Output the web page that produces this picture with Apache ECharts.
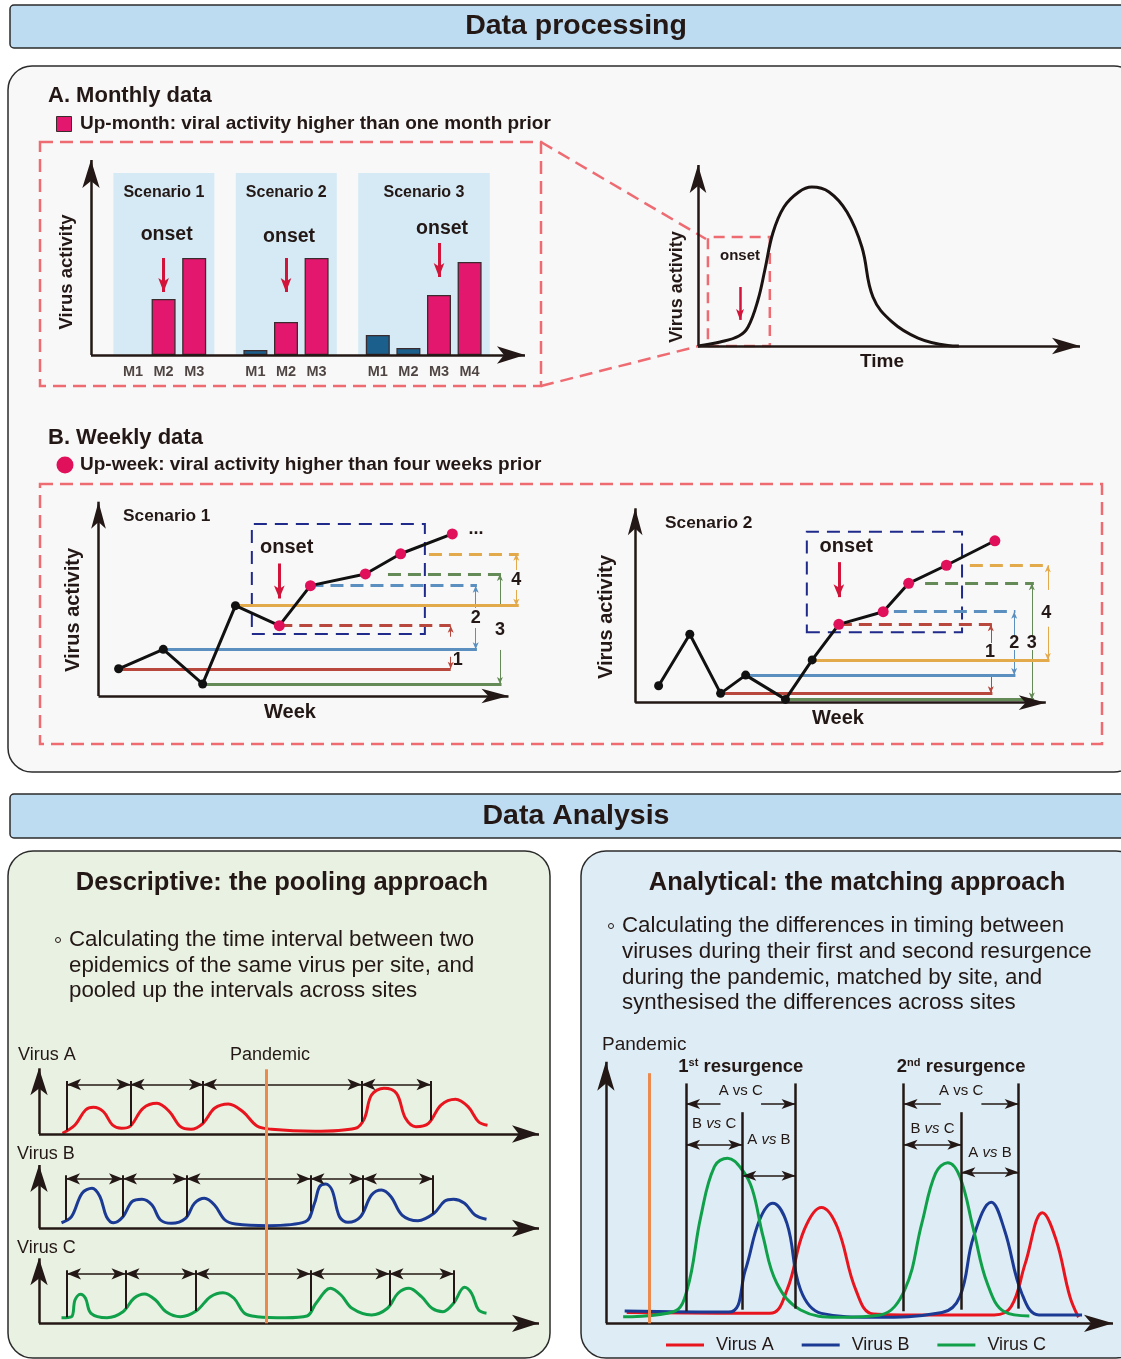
<!DOCTYPE html>
<html>
<head>
<meta charset="utf-8">
<title>Data processing and analysis</title>
<script src="https://cdn.jsdelivr.net/npm/echarts@6.0.0/dist/echarts.min.js"></script>
<style>
  html, body { margin: 0; padding: 0; background: #ffffff; }
  #chart { width: 1121px; height: 1359px; }
</style>
</head>
<body>
<div id="chart"></div>
<script>
// ---------------- data ----------------
// A. Monthly data: virus activity per month in three scenarios
const monthLabels   = ['M1', 'M2', 'M3', 'M1', 'M2', 'M3', 'M1', 'M2', 'M3', 'M4'];
const monthScenario = [1, 1, 1, 2, 2, 2, 3, 3, 3, 3];
const monthSlot     = [0, 1, 2, 4, 5, 6, 8, 9, 10, 11];
const monthActivity = [0, 56, 97, 5, 33, 97, 20, 7, 60, 93];
const scenarioNames = ['Scenario 1', 'Scenario 2', 'Scenario 3'];

// One epidemic over time
const curveTime     = [0, 5.8, 10.7, 13.1, 15.7, 17.5, 19.6, 22.5, 26.4, 29.8, 34.3, 39.0, 42.9, 45.8, 50.8, 57.6, 65.4, 68.3];
const curveActivity = [0, 2.2, 5.5, 10.5, 25.4, 42.0, 62.4, 76.8, 85.1, 87.8, 85.1, 74.0, 54.7, 27.1, 13.3, 4.4, 0.3, 0];
const curveOnset    = 11;

// B. Weekly data: two scenarios
const week1X        = [4.9, 15.8, 25.4, 33.4, 44.1, 51.7, 65.1, 73.7, 86.3];
const week1Activity = [14.0, 24.0, 6.2, 46.5, 36.2, 56.8, 62.8, 73.2, 83.4];
const week2X        = [5.7, 13.3, 20.8, 26.9, 36.6, 43.1, 49.6, 60.4, 66.6, 75.8, 87.6];
const week2Activity = [8.7, 35.2, 4.8, 14.2, 1.7, 22.0, 40.3, 46.8, 61.4, 70.7, 83.3];

// Pooling approach: epidemics of each virus and their start weeks
const poolAWeek     = [4.7, 7.2, 9.3, 10.9, 12.9, 14.7, 16.5, 18.3, 20.8, 23.6, 26.1, 28.3, 30.4, 32.8, 35.1, 37.9, 40.8, 43.6, 46.5, 55.1, 63.3, 65.1, 66.5, 69.0, 71.5, 73.3, 75.4, 77.9, 80.4, 83.3, 85.8, 87.9, 89.7];
const poolAActivity = [1.1, 13.7, 36.5, 40.6, 33.9, 13.7, 8.7, 12.2, 39.1, 46.7, 33.9, 11.1, 7.2, 16.3, 39.1, 45.7, 33.9, 12.2, 7.2, 4.1, 8.7, 23.9, 59.4, 69.6, 61.9, 23.9, 11.1, 16.3, 44.1, 52.8, 41.6, 18.7, 13.2];
const poolAStarts   = [5.6, 18.3, 32.8, 64.5, 78.3];
const poolBWeek     = [4.5, 6.5, 8.6, 10.6, 12.2, 13.5, 14.9, 16.8, 18.6, 20.6, 22.6, 24.3, 26.5, 29.3, 31.1, 33.1, 35.1, 37.2, 39.3, 45.8, 53.3, 55.1, 56.1, 57.3, 58.6, 60.1, 61.8, 64.3, 66.5, 68.5, 70.4, 72.6, 75.8, 79.0, 81.1, 82.9, 85.1, 87.2, 89.5];
const poolBActivity = [8.8, 18.3, 55.3, 63.2, 49.9, 18.3, 8.8, 18.3, 42.0, 45.8, 36.8, 13.1, 7.9, 15.8, 39.5, 47.4, 36.8, 13.1, 6.8, 4.1, 10.4, 39.5, 65.7, 70.0, 60.5, 18.3, 9.5, 18.3, 52.6, 60.5, 49.9, 21.0, 12.0, 23.7, 42.7, 45.8, 39.5, 21.0, 14.2];
const poolBStarts   = [5.4, 16.8, 29.5, 54.3, 64.8, 78.8];
const poolCWeek     = [4.5, 6.5, 7.2, 8.3, 9.3, 10.4, 13.6, 16.8, 19.0, 21.1, 23.3, 25.4, 28.3, 31.5, 34.3, 36.8, 39.0, 41.1, 43.6, 49.3, 53.6, 55.4, 58.3, 60.4, 62.6, 66.5, 69.7, 71.8, 74.0, 76.5, 78.6, 80.8, 82.9, 85.1, 86.5, 87.9, 89.5];
const poolCActivity = [8.6, 10.2, 35.8, 44.6, 38.5, 15.4, 8.6, 17.8, 38.5, 45.1, 35.8, 17.8, 10.2, 19.4, 40.9, 47.1, 38.5, 15.4, 10.2, 8.6, 11.2, 30.8, 53.8, 43.5, 23.1, 12.8, 23.1, 46.2, 53.8, 40.9, 23.1, 17.8, 30.8, 55.4, 46.2, 20.5, 15.4];
const poolCStarts   = [5.6, 17.3, 31.3, 54.3, 70.1, 82.9];
const pandemicWeek  = 45.4;

// Matching approach: first and second resurgence of each virus
const matchAWeek     = [4.1, 32.3, 35.7, 39.1, 42.5, 45.6, 49.3, 52.7, 62.9, 76.6, 79.9, 82.7, 86.1, 88.8, 91.5, 93.2];
const matchAActivity = [4.1, 3.8, 12.7, 35.7, 44.3, 36.9, 12.7, 3.6, 3.2, 3.2, 6.3, 22.9, 42.3, 31.8, 10.2, 2.3];
const matchBWeek     = [3.7, 24.2, 27.5, 30.3, 32.9, 35.7, 38.4, 42.5, 52.7, 66.3, 69.8, 72.5, 76.0, 78.6, 82.0, 85.4, 93.9];
const matchBActivity = [4.7, 4.3, 20.4, 39.5, 45.9, 38.2, 12.7, 3.8, 2.3, 4.1, 10.2, 33.1, 46.3, 35.7, 11.5, 3.2, 3.2];
const matchCWeek     = [3.4, 13.3, 16.0, 18.7, 21.4, 24.0, 26.9, 28.9, 31.0, 33.7, 38.4, 45.9, 54.1, 58.9, 62.3, 65.0, 67.4, 69.8, 72.5, 75.2, 78.6, 83.5];
const matchCActivity = [2.5, 4.4, 12.7, 40.7, 59.9, 63.1, 58.6, 51.0, 33.1, 15.3, 5.1, 2.3, 3.2, 12.7, 38.2, 57.3, 61.4, 56.0, 35.7, 15.3, 4.4, 2.8];
const resurgence1    = { A: 37.4, B: 26.9, C: 15.8 };
const resurgence2    = { A: 81.4, B: 70.1, C: 58.7 };
const matchPandemic  = 8.5;

// ---------------- styling ----------------
const INK = '#231815';
const PINK = '#e4176e';
const DOT_PINK = '#e0105a';
const MONTH_BLUE = '#1b5f8c';
const DASH_PINK = '#ee6b72';
const NAVY = '#1f2a8a';
const ONSET_RED = '#d3143a';
const PAIR_COLORS = ['#b8483d', '#5b8fbf', '#648b57', '#e3aa4b'];
const VIRUS_COLORS = { A: '#e8141e', B: '#1b3a94', C: '#10a04a' };
const ORANGE = '#ec8a4e';
const FF = '"Liberation Sans", Arial, Helvetica, sans-serif';

// ---------------- helpers ----------------
const grid = [], xAxis = [], yAxis = [], series = [];

// grid defined by the pixel position of value 0 and pixels per unit
function addGrid(ox, oy, sx, sy, ext) {
  const idx = grid.length;
  grid.push({ left: ox + ext[0] * sx, top: oy - ext[3] * sy, width: (ext[1] - ext[0]) * sx,
              height: (ext[3] - ext[2]) * sy, containLabel: false, outerBoundsMode: 'none', show: false });
  xAxis.push({ type: 'value', gridIndex: idx, min: ext[0], max: ext[1], show: false, splitLine: { show: false } });
  yAxis.push({ type: 'value', gridIndex: idx, min: ext[2], max: ext[3], show: false, splitLine: { show: false } });
  return idx;
}

function seg(a, b, style, endSym, startSym) {
  const p0 = { coord: a, symbol: 'none', lineStyle: Object.assign({ type: 'solid' }, style) };
  const p1 = { coord: b, symbol: 'none' };
  if (startSym) { p0.symbol = 'arrow'; p0.symbolSize = startSym; }
  if (endSym) { p1.symbol = 'arrow'; p1.symbolSize = endSym; }
  return [p0, p1];
}

function note(coord, text, style) {
  return { coord: coord, value: 0,
           label: Object.assign({ show: true, formatter: () => text, fontFamily: FF, color: INK }, style) };
}

function overlay(gi, lines, notes, z) {
  series.push({
    type: 'line', xAxisIndex: gi, yAxisIndex: gi, data: [], silent: true, clip: false, z: z || 4,
    markLine: { silent: true, animation: false, symbol: ['none', 'none'], label: { show: false },
                emphasis: { disabled: true }, lineStyle: { type: 'solid', color: INK, width: 1 }, data: lines },
    markPoint: { silent: true, animation: false, symbol: 'circle', symbolSize: 0,
                 itemStyle: { color: 'rgba(0,0,0,0)' }, emphasis: { disabled: true },
                 label: { show: true }, data: notes || [] }
  });
}

function axesLines(x0, y0, xEnd, yEnd, size, width) {
  const st = { color: INK, width: width || 2.5 };
  return [seg([x0, y0], [x0, yEnd], st, size), seg([x0, y0], [xEnd, y0], st, size)];
}

function interp(xs, ys, x) {
  if (x <= xs[0]) return ys[0];
  for (let i = 1; i < xs.length; i++) {
    if (x <= xs[i]) { const t = (x - xs[i - 1]) / (xs[i] - xs[i - 1]); return ys[i - 1] + t * (ys[i] - ys[i - 1]); }
  }
  return ys[ys.length - 1];
}

const zip = (xs, ys) => xs.map((x, i) => [x, ys[i]]);

// ---------------- A. monthly bars ----------------
const gM = addGrid(133, 355, 30.6, 1, [-3, 15, -30, 230]);
const upMonth = monthActivity.map((v, i) => i > 0 && monthScenario[i] === monthScenario[i - 1] && v > monthActivity[i - 1]);

series.push({
  type: 'line', xAxisIndex: gM, yAxisIndex: gM, data: [], silent: true, z: 2,
  markArea: {
    silent: true, animation: false, itemStyle: { color: '#d5eaf4' },
    label: { show: true, position: 'insideTop', distance: 12, color: INK, fontFamily: FF, fontSize: 16, fontWeight: 'bold' },
    data: scenarioNames.map((name, k) => {
      const s = monthSlot.filter((_, i) => monthScenario[i] === k + 1);
      return [{ name: name, coord: [Math.min(...s) - 0.64, 0] }, { coord: [Math.max(...s) + 0.66, 182] }];
    })
  }
});

series.push({
  type: 'bar', name: 'Monthly activity', xAxisIndex: gM, yAxisIndex: gM, barWidth: 24, z: 3, silent: true,
  itemStyle: { borderColor: '#3a2b2f', borderWidth: 1.3 },
  data: monthSlot.map((s, i) => ({ value: [s, monthActivity[i]],
    itemStyle: { color: upMonth[i] ? PINK : MONTH_BLUE, borderWidth: monthActivity[i] > 0 ? 1.3 : 0 } }))
});

series.push({
  type: 'scatter', xAxisIndex: gM, yAxisIndex: gM, symbolSize: 0, silent: true, z: 4,
  data: monthSlot.map((s, i) => [s, 0, monthLabels[i]]),
  label: { show: true, position: 'bottom', distance: 9, formatter: p => p.value[2],
           fontSize: 14.5, fontWeight: 'bold', color: INK, fontFamily: FF }
});

const monthOnsetArrow = [[97, 63], [97, 63], [112, 78]];
const monthOnsetText = [120, 118, 126];
const monthLines = axesLines(-1.373, 0, 12.81, 195, [13, 28]);
const monthNotes = [];
scenarioNames.forEach((_, k) => {
  const i = upMonth.findIndex((u, j) => u && monthScenario[j] === k + 1);
  const s = monthSlot[i];
  monthLines.push(seg([s, monthOnsetArrow[k][0]], [s, monthOnsetArrow[k][1]], { color: ONSET_RED, width: 3 }, [8, 14]));
  monthNotes.push(note([s + 0.1, monthOnsetText[k]], 'onset', { fontSize: 19.5, fontWeight: 'bold' }));
});
overlay(gM, monthLines, monthNotes);

// ---------------- epidemic curve ----------------
const gT = addGrid(698, 346, 3.82, 1.81, [-5, 110, -10, 110]);
series.push({
  type: 'line', xAxisIndex: gT, yAxisIndex: gT, data: zip(curveTime, curveActivity), smooth: 0.4,
  symbol: 'none', lineStyle: { color: '#1a1311', width: 3 }, z: 3, silent: true,
  markArea: { silent: true, itemStyle: { color: 'rgba(0,0,0,0)', borderColor: DASH_PINK, borderWidth: 2.5, borderType: [11, 7] },
              data: [[{ coord: [curveOnset - 8.4, 0] }, { coord: [curveOnset + 7.8, 60.2] }]] }
});
overlay(gT,
  axesLines(0, 0, 100, 100, [12.5, 28]).concat([seg([curveOnset, 32.6], [curveOnset, 14.4], { color: ONSET_RED, width: 2.5 }, [6, 11])]),
  [note([curveOnset, 50], 'onset', { fontSize: 15, fontWeight: 'bold' })]);

// ---------------- B. weekly scenarios ----------------
function buildWeekly(gi, xs, ys, guides, box) {
  const up = ys.map((v, i) => i >= 4 && v > ys[i - 4]);
  const onset = up.indexOf(true);
  const lines = [], notes = [];
  for (let k = 0; k < 4; k++) {
    const a = onset - 4 + k, b = onset + k, g = guides[k], col = PAIR_COLORS[k];
    lines.push(seg([xs[a], ys[a]], [g.end, ys[a]], { color: col, width: 3 }));
    lines.push(seg([g.dashFrom != null ? g.dashFrom : xs[b], ys[b]], [g.end, ys[b]], { color: col, width: 3, type: [13, 7] }));
    lines.push(seg([g.arrowX, g.gap[0]], [g.arrowX, ys[b]], { color: col, width: 1 }, [4.5, 7]));
    lines.push(seg([g.arrowX, g.gap[1]], [g.arrowX, ys[a]], { color: col, width: 1 }, [4.5, 7]));
    notes.push(note(g.label, String(k + 1), { fontSize: 18, fontWeight: 'bold' }));
  }
  overlay(gi, lines, notes, 3);

  series.push({
    type: 'line', xAxisIndex: gi, yAxisIndex: gi, silent: true, z: 5,
    data: xs.map((x, i) => ({ value: [x, ys[i]], symbolSize: up[i] ? 11 : 9, itemStyle: { color: up[i] ? DOT_PINK : '#111' } })),
    symbol: 'circle', lineStyle: { color: '#111', width: 3 },
    markArea: { silent: true, itemStyle: { color: 'rgba(0,0,0,0)', borderColor: NAVY, borderWidth: 2, borderType: [13, 8] },
                data: [[{ coord: [box[0], box[2]] }, { coord: [box[1], box[3]] }]] }
  });

  const ox = xs[onset], oy = ys[onset];
  overlay(gi,
    axesLines(0, 0, 100, 100, [11, 27]).concat([seg([ox, oy + 32], [ox, oy + 14], { color: ONSET_RED, width: 3 }, [8, 13])]),
    [note([ox + 1.8, oy + 40], 'onset', { fontSize: 20, fontWeight: 'bold' })], 6);
}

const gW1 = addGrid(98.5, 696, 4.1, 1.943, [-10, 115, -15, 110]);
buildWeekly(gW1, week1X, week1Activity, [
  { end: 85.9, arrowX: 85.9, gap: [30.5, 20.2], label: [87.6, 18.5] },
  { end: 92.3, arrowX: 92.0, gap: [45.3, 35.0], label: [92.0, 40.3] },
  { end: 98.3, dashFrom: 70.6, arrowX: 97.9, gap: [46.0, 23.7], label: [97.9, 34.0] },
  { end: 102.5, dashFrom: 80.6, arrowX: 101.9, gap: [64.8, 54.6], label: [101.9, 59.7] }
], [37.4, 79.6, 31.9, 88.5]);

const gW2 = addGrid(635.2, 702.7, 4.106, 1.944, [-10, 115, -15, 110]);
buildWeekly(gW2, week2X, week2Activity, [
  { end: 87.0, arrowX: 86.6, gap: [30.7, 14.2], label: [86.4, 26.2] },
  { end: 92.6, dashFrom: 63.0, arrowX: 92.3, gap: [34.8, 27.1], label: [92.3, 30.9] },
  { end: 97.1, dashFrom: 70.6, arrowX: 96.6, gap: [34.3, 27.1], label: [96.6, 30.9] },
  { end: 100.9, dashFrom: 81.5, arrowX: 100.5, gap: [58.0, 39.1], label: [100.1, 46.3] }
], [41.8, 79.6, 36.2, 88.0]);

// ---------------- pooling approach ----------------
function buildPool(gi, name, weeks, act, starts, color, sy) {
  series.push({
    type: 'line', name: name, xAxisIndex: gi, yAxisIndex: gi, data: zip(weeks, act), smooth: 0.35,
    symbol: 'none', lineStyle: { color: color, width: 3 }, z: 3, silent: true
  });
  const top = 53 / sy, arr = 49.5 / sy;
  const lines = axesLines(0, 0, 100, 100, [13, 27]);
  starts.forEach(x => lines.push(seg([x, Math.max(0, interp(weeks, act, x))], [x, top], { color: INK, width: 2 })));
  for (let i = 1; i < starts.length; i++) {
    lines.push(seg([starts[i - 1], arr], [starts[i], arr], { color: INK, width: 1.5 }, [8.5, 14], [8.5, 14]));
  }
  overlay(gi, lines, []);
}
const gA = addGrid(39, 1134, 5, 0.657, [-5, 110, -20, 110]);
const gB = addGrid(39, 1228.3, 5, 0.633, [-5, 110, -20, 110]);
const gC = addGrid(39, 1323.3, 5, 0.65, [-5, 110, -20, 110]);
buildPool(gA, 'Virus A (per site)', poolAWeek, poolAActivity, poolAStarts, VIRUS_COLORS.A, 0.657);
buildPool(gB, 'Virus B (per site)', poolBWeek, poolBActivity, poolBStarts, VIRUS_COLORS.B, 0.633);
buildPool(gC, 'Virus C (per site)', poolCWeek, poolCActivity, poolCStarts, VIRUS_COLORS.C, 0.65);
const gP = addGrid(39, 1323.3, 5, 2.54, [-5, 110, -5, 110]);
overlay(gP, [seg([pandemicWeek, 0], [pandemicWeek, 100], { color: ORANGE, width: 3 })], [], 6);

// ---------------- matching approach ----------------
const gR = addGrid(605.9, 1323.3, 5.071, 2.616, [-5, 100.5, -10, 110]);
[['Virus A', matchAWeek, matchAActivity, VIRUS_COLORS.A],
 ['Virus B', matchBWeek, matchBActivity, VIRUS_COLORS.B],
 ['Virus C', matchCWeek, matchCActivity, VIRUS_COLORS.C]].forEach(([name, w, a, c]) => {
  series.push({ type: 'line', name: name, xAxisIndex: gR, yAxisIndex: gR, data: zip(w, a), smooth: 0.4,
                symbol: 'none', lineStyle: { color: c, width: 3 }, itemStyle: { color: c }, z: 3, silent: true });
});

const vsRich = { n: { fontSize: 15, fontFamily: FF, color: INK }, i: { fontSize: 15, fontFamily: FF, color: INK, fontStyle: 'italic' } };
const matchLines = axesLines(0, 0, 100, 100, [13, 29]);
const matchNotes = [];
matchLines.push(seg([matchPandemic, 0], [matchPandemic, 95.6], { color: ORANGE, width: 3 }));
const headSize = [7.5, 14];
[[resurgence1, '1', 'st', 76.1, 56.4, 70.3], [resurgence2, '2', 'nd', 74.5, 57.7, 65.0]].forEach(([r, num, sup, bcLabel, abY, abLabel]) => {
  const st = { color: INK, width: 2.5 };
  matchLines.push(seg([r.C, 4.6], [r.C, 91.7], st));
  matchLines.push(seg([r.B, 5.2], [r.B, 80.7], st));
  matchLines.push(seg([r.A, 5.6], [r.A, 91.7], st));
  const arw = { color: INK, width: 1.5 };
  const midAC = (r.A + r.C) / 2, midBC = (r.B + r.C) / 2, midAB = (r.A + r.B) / 2;
  matchLines.push(seg([midAC - 4, 83.8], [r.C, 83.8], arw, headSize));
  matchLines.push(seg([midAC + 4, 83.8], [r.A, 83.8], arw, headSize));
  matchLines.push(seg([r.C, 68.3], [r.B, 68.3], arw, headSize, headSize));
  matchLines.push(seg([r.B, abY], [r.A, abY], arw, headSize, headSize));
  matchNotes.push(note([midAC, 88.9], 'A vs C', { fontSize: 15 }));
  matchNotes.push(note([midBC, bcLabel], '{n|B }{i|vs}{n| C}', { rich: vsRich }));
  matchNotes.push(note([midAB, abLabel], '{n|A }{i|vs}{n| B}', { rich: vsRich }));
  matchNotes.push(note([midAC, 97.9], '{b|' + num + '}{s|' + sup + '}{b| resurgence}', {
    rich: { b: { fontSize: 18.5, fontWeight: 'bold', fontFamily: FF, color: INK, lineHeight: 20 },
            s: { fontSize: 11, fontWeight: 'bold', fontFamily: FF, color: INK, verticalAlign: 'top', lineHeight: 12 } } }));
});
overlay(gR, matchLines, matchNotes);

// ---------------- page furniture ----------------
function txt(x, y, text, size, weight, extra) {
  return Object.assign({ type: 'text', x: x, y: y, z: 50, silent: true,
    style: Object.assign({ text: text, fill: INK, fontSize: size, fontWeight: weight || 'normal', fontFamily: FF,
                           align: 'left', verticalAlign: 'middle' }, extra && extra.style) },
    extra && extra.el);
}
const center = { style: { align: 'center' } };
const rot = { style: { align: 'center' }, el: { rotation: Math.PI / 2 } };
const dashStroke = { fill: 'none', stroke: DASH_PINK, lineWidth: 2.5, lineDash: [13, 7] };

const graphics = [
  { type: 'rect', z: 0, shape: { x: 10, y: 5, width: 1125, height: 43, r: 4 }, style: { fill: '#bddbf1', stroke: '#2b2b2b', lineWidth: 1.5 } },
  { type: 'rect', z: 0, shape: { x: 8, y: 66, width: 1130, height: 706, r: 24 }, style: { fill: '#f8f8f8', stroke: '#2b2b2b', lineWidth: 1.5 } },
  { type: 'rect', z: 0, shape: { x: 10, y: 794, width: 1125, height: 44, r: 4 }, style: { fill: '#bddbf1', stroke: '#2b2b2b', lineWidth: 1.5 } },
  { type: 'rect', z: 0, shape: { x: 8, y: 851, width: 542, height: 507, r: 25 }, style: { fill: '#e9f1e3', stroke: '#2b2b2b', lineWidth: 1.5 } },
  { type: 'rect', z: 0, shape: { x: 581, y: 851, width: 560, height: 507, r: 25 }, style: { fill: '#deedf5', stroke: '#2b2b2b', lineWidth: 1.5 } },

  txt(576, 26.5, 'Data processing', 28.5, 'bold', center),
  txt(48, 96, 'A. Monthly data', 22, 'bold'),
  { type: 'rect', z: 50, shape: { x: 56.5, y: 116.5, width: 15, height: 15 }, style: { fill: PINK, stroke: '#3a2b2f', lineWidth: 1 } },
  txt(80, 124, 'Up-month: viral activity higher than one month prior', 19, 'bold'),
  { type: 'rect', z: 1, shape: { x: 40, y: 142, width: 501, height: 244 }, style: dashStroke },
  { type: 'line', z: 1, shape: { x1: 541, y1: 142, x2: 706, y2: 239 }, style: dashStroke },
  { type: 'line', z: 1, shape: { x1: 541, y1: 386, x2: 699, y2: 346 }, style: dashStroke },
  txt(67, 272, 'Virus activity', 18.5, 'bold', rot),
  txt(677, 287, 'Virus activity', 18, 'bold', rot),
  txt(882, 362, 'Time', 19, 'bold', center),

  txt(48, 438, 'B. Weekly data', 22, 'bold'),
  { type: 'circle', z: 50, shape: { cx: 65, cy: 465, r: 8.5 }, style: { fill: DOT_PINK } },
  txt(80, 465, 'Up-week: viral activity higher than four weeks prior', 19, 'bold'),
  { type: 'rect', z: 1, shape: { x: 40, y: 484, width: 1062, height: 260 }, style: dashStroke },
  txt(123, 516, 'Scenario 1', 17.3, 'bold'),
  txt(665, 523, 'Scenario 2', 17.3, 'bold'),
  txt(73, 610, 'Virus activity', 20, 'bold', rot),
  txt(606, 617, 'Virus activity', 20, 'bold', rot),
  txt(290, 712, 'Week', 20, 'bold', center),
  txt(838, 718, 'Week', 20, 'bold', center),
  txt(476, 529, '...', 18, 'bold', center),

  txt(576, 816, 'Data Analysis', 28.5, 'bold', center),
  txt(282, 883, 'Descriptive: the pooling approach', 25.5, 'bold', center),
  txt(857, 883, 'Analytical: the matching approach', 25.5, 'bold', center),
  { type: 'circle', z: 50, shape: { cx: 58, cy: 940, r: 2.5 }, style: { fill: 'none', stroke: INK, lineWidth: 1 } },
  txt(69, 940, 'Calculating the time interval between two', 22.3),
  txt(69, 965.5, 'epidemics of the same virus per site, and', 22.3),
  txt(69, 991, 'pooled up the intervals across sites', 22.3),
  { type: 'circle', z: 50, shape: { cx: 611, cy: 926, r: 2.5 }, style: { fill: 'none', stroke: INK, lineWidth: 1 } },
  txt(622, 926, 'Calculating the differences in timing between', 22.3),
  txt(622, 951.7, 'viruses during their first and second resurgence', 22.3),
  txt(622, 977.4, 'during the pandemic, matched by site, and', 22.3),
  txt(622, 1003, 'synthesised the differences across sites', 22.3),

  txt(18, 1055, 'Virus A', 18),
  txt(270, 1055, 'Pandemic', 18, 'normal', center),
  txt(17, 1154, 'Virus B', 18),
  txt(17, 1248, 'Virus C', 18),
  txt(602, 1045, 'Pandemic', 19)
];

const option = {
  animation: false,
  backgroundColor: '#ffffff',
  textStyle: { fontFamily: FF },
  grid: grid,
  xAxis: xAxis,
  yAxis: yAxis,
  legend: {
    data: ['Virus A', 'Virus B', 'Virus C'], left: 661, top: 1331, icon: 'rect', itemWidth: 38, itemHeight: 3,
    itemGap: 28, selectedMode: false,
    textStyle: { fontSize: 18, color: INK, fontFamily: FF, padding: [0, 0, 0, 7] }
  },
  series: series,
  graphic: { elements: graphics }
};

const chart = echarts.init(document.getElementById('chart'), null, { width: 1121, height: 1359 });
chart.setOption(option);
</script>
</body>
</html>
